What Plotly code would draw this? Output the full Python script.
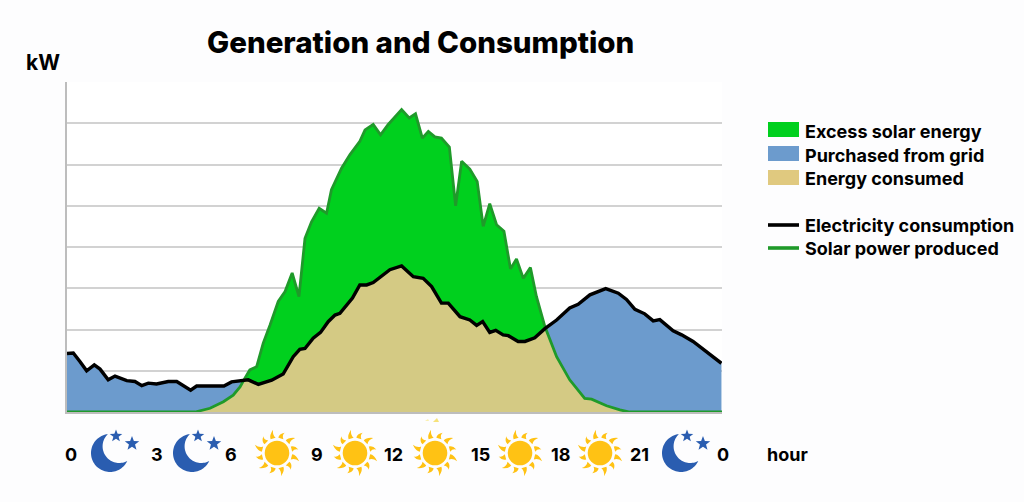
import math
import numpy as np
import plotly.graph_objects as go

# ---------- data ----------
consumption_hours = [0,.23,.48,.72,1.0,1.21,1.51,1.76,2.19,2.49,2.74,2.98,3.28,3.71,4.02,4.53,4.75,5.75,6.03,6.34,6.64,7.01,7.5,7.92,8.29,8.53,8.72,9.02,9.29,9.57,9.82,10.0,10.46,10.73,10.98,11.22,11.83,12.26,12.69,13.05,13.36,13.72,13.97,14.4,14.76,15.01,15.23,15.49,15.71,15.98,16.17,16.53,16.78,17.14,17.51,17.94,18.42,18.73,19.16,19.74,20.2,20.5,20.81,21.17,21.48,21.72,22.21,22.52,22.94,23.98]
consumption_kw = [1.42,1.43,1.22,1.0,1.14,1.04,.78,.87,.76,.74,.64,.7,.68,.74,.74,.53,.63,.63,.73,.75,.78,.67,.77,.92,1.34,1.52,1.54,1.79,1.93,2.19,2.35,2.39,2.76,3.08,3.08,3.14,3.45,3.54,3.28,3.24,3.04,2.64,2.64,2.31,2.23,2.1,2.19,1.93,1.98,1.87,1.85,1.71,1.71,1.8,2.02,2.23,2.52,2.61,2.84,2.99,2.88,2.73,2.49,2.38,2.21,2.24,1.97,1.87,1.71,1.18]
solar_hours = [0,4.69,5.24,5.73,6.09,6.34,6.52,6.7,6.95,7.19,7.44,7.74,7.99,8.25,8.5,8.72,8.96,9.24,9.51,9.69,10.06,10.37,10.73,10.92,11.22,11.49,11.77,12.26,12.54,12.77,13.02,13.24,13.48,13.72,14.01,14.24,14.46,14.76,15.03,15.25,15.49,15.74,16.01,16.25,16.47,16.72,16.98,17.2,17.51,17.94,18.42,18.97,19.22,19.77,20.26,20.62,24]
solar_kw = [0,0,.09,.25,.41,.61,.82,1.02,1.1,1.67,2.11,2.68,2.92,3.37,2.8,4.21,4.61,4.94,4.82,5.39,5.91,6.24,6.56,6.84,6.97,6.72,6.97,7.33,7.13,7.23,6.64,6.8,6.67,6.64,6.42,5.0,6.08,5.89,5.59,4.5,5.05,4.54,4.38,3.47,3.71,3.24,3.5,2.8,2.07,1.34,.78,.33,.31,.15,.05,0,0]

tick_labels = ["0","3","6","9","12","15","18","21","0"]
area_names = ["Excess solar energy","Purchased from grid","Energy consumed"]
line_names = ["Electricity consumption","Solar power produced"]

# ---------- layout constants (pixels) ----------
W, H = 1024, 502
L, R, T, B = 67, 722, 82, 412
GREEN, BLUE, TAN = "#00D01E", "#6C9BCD", "#D4CA84"
LEGEND_TAN = "#E0C97F"
SOLAR_LINE, BLACK = "#1F9A2A", "#000000"
MOON, SUN = "#2A5DB0", "#FFC214"
tick_px = [71,157,231,317,393,480,560,639,723]
moon_px = [110,192,681]
sun_px = [277,355,435,520,600]
ICON_Y = 453

def px(x): return (x-L)/(R-L)
def py(y): return (B-y)/(B-T)
def fmt(x,y): return f"{px(x):.5f},{py(y):.5f}"

def poly(points, fill):
    return dict(type="path", xref="paper", yref="paper", layer="above",
                path="M"+" L".join(fmt(*p) for p in points)+" Z",
                fillcolor=fill, line=dict(width=0))

def star(cx, cy, r):
    return poly([(cx+(r if k%2==0 else r*.42)*math.sin(k*math.pi/5),
                  cy-(r if k%2==0 else r*.42)*math.cos(k*math.pi/5)) for k in range(10)], MOON)

def moon(cx, cy):
    R1, r2 = 19, 16.7
    dx, dy = 9.3, -6.7
    d = math.hypot(dx, dy)
    base = math.atan2(dy, dx)
    a = (R1*R1-r2*r2+d*d)/(2*d)
    half = math.acos(a/R1)
    pts = []
    for t in np.linspace(base+half, base-half+2*math.pi, 60):
        pts.append((cx+R1*math.cos(t), cy+R1*math.sin(t)))
    t1 = (cx+R1*math.cos(base-half), cy+R1*math.sin(base-half))
    t2 = (cx+R1*math.cos(base+half), cy+R1*math.sin(base+half))
    c2 = (cx+dx, cy+dy)
    a1 = math.atan2(t1[1]-c2[1], t1[0]-c2[0])
    a2 = math.atan2(t2[1]-c2[1], t2[0]-c2[0])
    while a1 < a2: a1 += 2*math.pi
    for t in np.linspace(a1, a2, 40):
        pts.append((c2[0]+r2*math.cos(t), c2[1]+r2*math.sin(t)))
    return [poly(pts, MOON), star(cx+6, cy-17, 6.6), star(cx+22, cy-9.5, 7.6)]

def sun(cx, cy):
    out = [dict(type="circle", xref="paper", yref="paper", layer="above",
                x0=px(cx-12.3), x1=px(cx+12.3), y0=py(cy+12.3), y1=py(cy-12.3),
                fillcolor=SUN, line=dict(width=0))]
    for k in range(12):
        t = k*math.pi/6 + math.pi/12
        ln = 23.5 if k%2==0 else 21.5
        def p(rad, off):
            return (cx+rad*math.cos(t)-off*math.sin(t), cy+rad*math.sin(t)+off*math.cos(t))
        b1, b2, tip = p(15,-2.6), p(15,2.6), p(ln,2.2)
        c1, c2 = p(19,-3.2), p(18.5,0)
        out.append(dict(type="path", xref="paper", yref="paper", layer="above",
                        path=f"M{fmt(*b1)} Q{fmt(*c1)} {fmt(*tip)} Q{fmt(*c2)} {fmt(*b2)} Z",
                        fillcolor=SUN, line=dict(width=0)))
    return out

# ---------- figure ----------
fig = go.Figure()
grid_x = np.union1d(consumption_hours, solar_hours)
overlap = np.minimum(np.interp(grid_x, consumption_hours, consumption_kw),
                     np.interp(grid_x, solar_hours, solar_kw))

def area(x, y, color):
    fig.add_trace(go.Scatter(x=x, y=y, mode="lines", fill="tozeroy", fillcolor=color,
                             line=dict(width=0), hoverinfo="skip", showlegend=False))

area(solar_hours, solar_kw, GREEN)
area(consumption_hours, consumption_kw, BLUE)
area(grid_x, overlap, TAN)
fig.add_trace(go.Scatter(x=solar_hours, y=solar_kw, mode="lines", cliponaxis=False,
                         line=dict(color=SOLAR_LINE, width=2.8), showlegend=False))
fig.add_trace(go.Scatter(x=consumption_hours, y=consumption_kw, mode="lines", cliponaxis=False,
                         line=dict(color=BLACK, width=3.4), showlegend=False))

shapes = []
for x in moon_px: shapes += moon(x, ICON_Y)
for x in sun_px: shapes += sun(x, ICON_Y)
# faint yellow specks just under the axis, above the 12-15 h sun
shapes.append(poly([(433,422),(437,418),(439,422)], "#F6E27A"))
shapes.append(poly([(425,421),(428,419),(429,421)], "#FAF0B0"))
swatches = [(122,137,GREEN),(146,161,BLUE),(170,185,LEGEND_TAN)]
for y0,y1,c in swatches:
    shapes.append(dict(type="rect", xref="paper", yref="paper", x0=px(768), x1=px(799),
                       y0=py(y1), y1=py(y0), fillcolor=c, line=dict(width=0)))
for y,c in [(225,BLACK),(248,SOLAR_LINE)]:
    shapes.append(dict(type="line", xref="paper", yref="paper", x0=px(768), x1=px(799),
                       y0=py(y), y1=py(y), line=dict(color=c, width=3.6)))

FONT = "Inter"
def text(s, x, y, size, anchor="center", weight=700):
    return dict(text=s, xref="paper", yref="paper", x=px(x), y=py(y), showarrow=False,
                xanchor=anchor, yanchor="middle", align=anchor,
                font=dict(family=FONT, size=size, color="#000000", weight=weight))

ann = [text("Generation and Consumption", 421, 42, 29.5, weight=800),
       text("kW", 43, 62, 21),
       text("hour", 788, 454, 18)]
for s,x in zip(tick_labels, tick_px):
    ann.append(text(s, x, 454, 18))
for s,y in zip(area_names, [131,155,178]):
    ann.append(text(s, 803, y, 18, "left", 700))
for s,y in zip(line_names, [225,248]):
    ann.append(text(s, 803, y, 18, "left", 700))

fig.update_layout(
    width=W, height=H, margin=dict(l=L, r=W-R, t=T, b=H-B),
    paper_bgcolor="#FDFDFE", plot_bgcolor="#FFFFFF", showlegend=False,
    shapes=shapes, annotations=ann,
    xaxis=dict(range=[0,24], showgrid=False, zeroline=False, showticklabels=False,
               ticks="", showline=True, linecolor="#BDBDBD", linewidth=1.5),
    yaxis=dict(range=[0,8], dtick=1, showgrid=True, gridcolor="#D2D2D2", gridwidth=1.5,
               zeroline=False, showticklabels=False, ticks="",
               showline=True, linecolor="#BDBDBD", linewidth=1.5),
)
fig.write_html("out.html", config=dict(displayModeBar=False),
               post_script="document.body.style.margin='0';")
